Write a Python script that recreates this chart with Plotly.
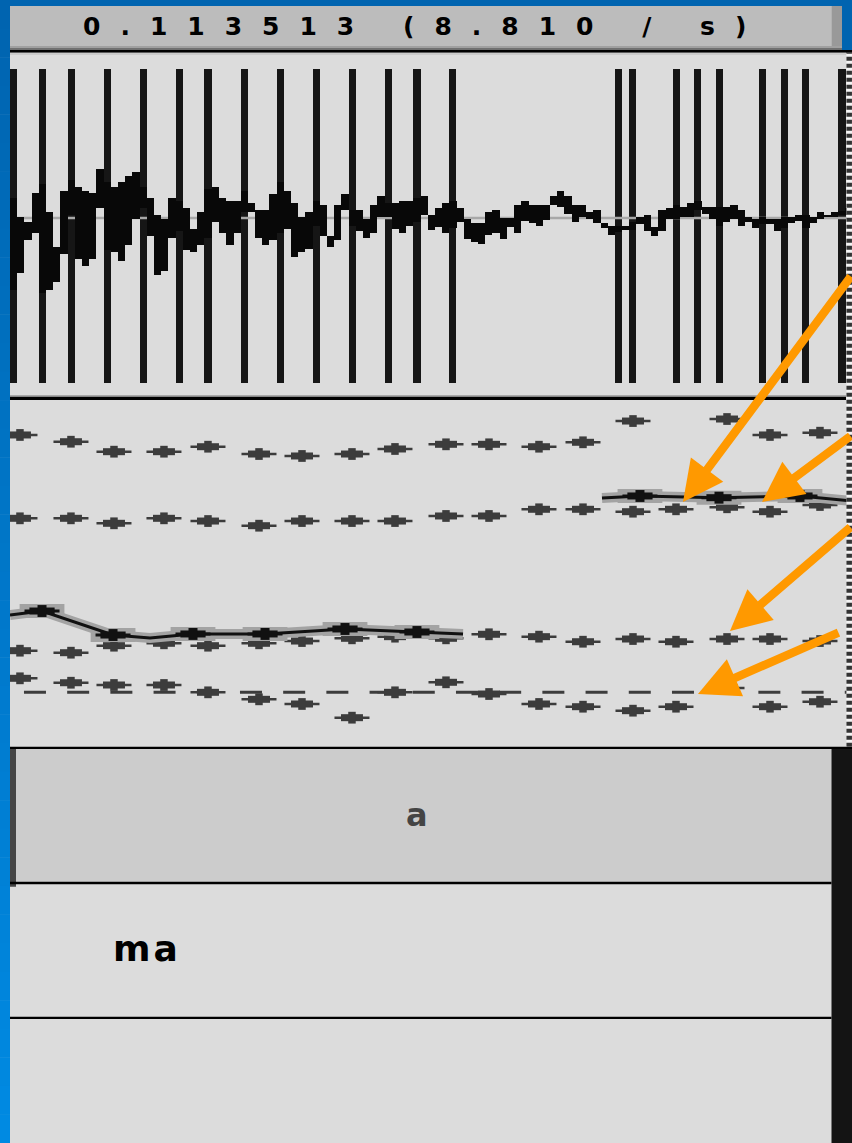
import numpy as np
import plotly.graph_objects as go

W, H = 852, 1143

# ---------------------------------------------------------------- data
SELECTION_S = 0.113513          # selected interval duration (s)
T_END_MS = 115.72               # right edge of the visible window (ms)

# Waveform, drawn as one min/max column per screen pixel column
wave_edges_ms = [
    0.00, 0.96, 1.92, 3.02, 3.99, 4.95, 5.91, 6.87, 7.97, 8.93,
    9.89, 10.86, 11.82, 12.92, 13.88, 14.84, 15.80, 16.77, 17.87, 18.83,
    19.79, 20.75, 21.71, 22.81, 23.78, 24.74, 25.70, 26.66, 27.76, 28.72,
    29.68, 30.78, 31.75, 32.71, 33.67, 34.63, 35.59, 36.69, 37.66, 38.62,
    39.58, 40.54, 41.64, 42.60, 43.57, 44.53, 45.49, 46.59, 47.55, 48.51,
    49.47, 50.44, 51.54, 52.50, 53.46, 54.42, 55.38, 56.48, 57.45, 58.41,
    59.37, 60.33, 61.43, 62.39, 63.35, 64.32, 65.28, 66.24, 67.34, 68.30,
    69.26, 70.23, 71.33, 72.29, 73.25, 74.21, 75.17, 76.14, 77.24, 78.20,
    79.16, 80.12, 81.22, 82.18, 83.15, 84.11, 85.07, 86.03, 87.13, 88.09,
    89.05, 90.15, 91.12, 92.08, 93.04, 94.00, 95.10, 96.06, 97.03, 97.99,
    98.95, 100.05, 101.01, 101.97, 102.94, 103.90, 105.00, 105.96, 106.92, 107.88,
    108.84, 109.94, 110.91, 111.87, 112.83, 113.79, 114.75, 115.72,
]
wave_max_mpa = [
    20, 1, -4, 25, 34, 6, -29, 27, 38, 31,
    27, 25, 49, 36, 31, 36, 42, 46, 31, 20,
    3, -1, 20, 17, 10, -11, 6, 29, 31, 20,
    17, 17, 27, 15, 8, 8, 24, 36, 27, 15,
    1, 6, 17, 13, -18, 13, 24, 8, 8, -1,
    13, 22, 15, 15, 17, 17, 20, 22, 3, 10,
    15, 17, 10, -1, -5, -5, 6, 8, 0, 0,
    13, 17, 13, 13, 13, 22, 27, 22, 13, 13,
    6, 8, -5, -8, -8, -8, -4, 1, 3, -9,
    8, 10, 13, 11, 15, 17, 11, 11, 11, 11,
    13, 8, 1, -1, 1, -1, -1, 1, 1, 3,
    3, 1, 6, 3, 6, 7, 10,
]
wave_min_mpa = [
    -72, -55, -22, -15, -75, -72, -64, -36, 3, -41,
    -48, -41, 10, -32, -34, -43, -27, -1, 10, -18,
    -57, -53, -20, -13, -32, -34, -27, -20, -4, -15,
    -27, -15, 6, 6, -20, -27, -22, -15, -11, -39,
    -34, -31, -8, -18, -29, -22, 8, -8, -13, -20,
    -15, 1, 1, -11, -15, -8, -4, 3, -12, -9,
    -15, -10, -4, -21, -24, -26, -17, -15, -21, -9,
    -15, -3, -5, -8, -2, 13, 11, 4, -4, 1,
    -1, -5, -10, -17, -14, -12, -12, -6, -13, -18,
    -13, -1, -1, 1, 1, 8, 4, -1, -8, -4,
    -1, -8, -4, -10, -6, -6, -13, -10, -5, -3,
    -10, -5, -1, 1, 1, 3, 3,
]
AMP_RANGE_MPA = [-165, 149]

# Glottal pulses (ms)
pulse_ms = [0.45, 4.44, 8.42, 13.37, 18.32, 23.27, 27.21, 32.20, 37.15, 42.09,
            47.04, 51.99, 55.93, 60.85, 83.60, 85.59, 91.62, 94.52, 97.48,
            103.39, 106.41, 109.37, 114.34]

# Formant tracks (Hz) per analysis frame
frame_ms = [1.37, 8.38, 14.29, 21.16, 27.21, 34.22, 40.13, 47.00, 52.91,
            59.92, 65.83, 72.70, 78.75, 85.62, 91.53, 98.54, 104.45, 111.32]
f1_hz = [1057, 987, 951, 951, 835, 724, 650, 433, 835,
         994, 808, 650, 607, 544, 607, 903, 607, 686]
f2_hz = [1495, 1463, 1574, 1612, 1574, 1612, 1648, 1691, 1717,
         1691, 1755, 1717, 1637, 1680, 1637, 1680, 1680, 1648]
f3_hz = [3593, 3593, 3514, 3593, 3550, 3476, 3550, 3550, 3550,
         3630, 3630, 3736, 3736, 3698, 3736, 3768, 3698, 3804]
f4_hz = [4914, 4807, 4649, 4649, 4728, 4612, 4581, 4612, 4692,
         4766, 4766, 4728, 4798, 5135, None, 5167, 4914, 4950]
FORMANT_RANGE_HZ = [0, 5500]

# Frequency cursor (dashed horizontal line)
cursor_hz = 835
cursor_start_ms = 1.92

# Pitch contour (Hz) and its analysis frames
pitch_line_ms = [0.00, 4.40, 14.16, 19.24, 25.15, 35.05, 46.04, 55.93, 62.26, None,
                 81.36, 86.58, 97.44, 108.57, 115.72]
pitch_line_hz = [234.2, 239.1, 209.7, 206.1, 211.0, 211.0, 217.1, 213.4, 211.0, None,
                 377.5, 380.0, 377.9, 380.0, 373.9]
pitch_frame_ms = [4.40, 14.16, 25.15, 35.05, 46.04, 55.93, 86.58, 97.44, 108.57]
pitch_frame_hz = [239.1, 209.7, 211.0, 211.0, 217.1, 213.4, 380.0, 377.9, 380.0]
PITCH_RANGE_HZ = [75, 500]

# Arrow targets: (time ms, frequency Hz, tail dx px, tail dy px)
arrows = [
    (92.49, 3852, 169, -227),
    (103.35, 3852, 90, -67),
    (98.95, 1807, 122, -105),
    (94.55, 808, 142, -62),
]

tier1_label = "a"
tier2_label = "ma"

# ---------------------------------------------------------------- helpers
def px(x):
    return x / W


def py(y):
    return 1 - y / H


PANEL = "#dcdcdc"
DOT = "#3c3c3c"
ORANGE = "#ff9900"

edges = np.array(wave_edges_ms)
col_center = (edges[:-1] + edges[1:]) / 2
col_width = np.diff(edges)
wmax = np.array(wave_max_mpa, dtype=float)
wmin = np.array(wave_min_mpa, dtype=float)
zero_frac = (0 - AMP_RANGE_MPA[0]) / (AMP_RANGE_MPA[1] - AMP_RANGE_MPA[0])

fig = go.Figure()

# pulses (base subplot, under everything in the sound panel)
fig.add_trace(go.Bar(x=pulse_ms, y=[1] * len(pulse_ms), base=0, width=1.0,
                     marker=dict(color="#161616", line=dict(width=0)),
                     xaxis="x", yaxis="y", hoverinfo="skip"))
# zero line of the waveform
fig.add_trace(go.Scatter(x=[0, T_END_MS], y=[zero_frac, zero_frac], mode="lines",
                         line=dict(color="#a8a8a8", width=2.5),
                         xaxis="x", yaxis="y", hoverinfo="skip"))
# waveform columns
fig.add_trace(go.Bar(x=col_center, y=wmax - wmin, base=wmin, width=col_width,
                     marker=dict(color="#080808", line=dict(width=0)),
                     xaxis="x", yaxis="y2", hoverinfo="skip"))

# frequency cursor
fig.add_trace(go.Scatter(x=[cursor_start_ms, T_END_MS], y=[cursor_hz, cursor_hz],
                         mode="lines",
                         line=dict(color=DOT, width=3, dash="22px,21.2px"),
                         xaxis="x", yaxis="y3", hoverinfo="skip"))

# formant speckles
fx, fy = [], []
for track in (f1_hz, f2_hz, f3_hz, f4_hz):
    fx += frame_ms
    fy += track
for sym, size, lw in (("line-ew", 25, 2.5), ("line-ew", 15.7, 7), ("line-ns", 8.4, 7.5)):
    fig.add_trace(go.Scatter(x=fx, y=fy, mode="markers",
                             marker=dict(symbol=sym, size=size,
                                         line=dict(color=DOT, width=lw)),
                             xaxis="x", yaxis="y3", hoverinfo="skip"))

# pitch contour with halo
fig.add_trace(go.Scatter(x=pitch_line_ms, y=pitch_line_hz, mode="lines",
                         line=dict(color="#a3a3a3", width=10), connectgaps=False,
                         xaxis="x", yaxis="y4", hoverinfo="skip"))
fig.add_trace(go.Scatter(x=pitch_frame_ms, y=pitch_frame_hz, mode="markers",
                         marker=dict(symbol="line-ew", size=32,
                                     line=dict(color="#a3a3a3", width=14)),
                         xaxis="x", yaxis="y4", hoverinfo="skip"))
fig.add_trace(go.Scatter(x=pitch_line_ms, y=pitch_line_hz, mode="lines",
                         line=dict(color="#111111", width=3), connectgaps=False,
                         xaxis="x", yaxis="y4", hoverinfo="skip"))
for sym, size, lw in (("line-ew", 25, 3), ("line-ew", 18, 7), ("line-ns", 8.5, 9)):
    fig.add_trace(go.Scatter(x=pitch_frame_ms, y=pitch_frame_hz, mode="markers",
                             marker=dict(symbol=sym, size=size,
                                         line=dict(color="#111111", width=lw)),
                             xaxis="x", yaxis="y4", hoverinfo="skip"))

# ---------------------------------------------------------------- frame / panels
shapes = []


def rect(x0, y0, x1, y1, color, layer="below"):
    shapes.append(dict(type="rect", xref="paper", yref="paper",
                       x0=px(x0), x1=px(x1), y0=py(y1), y1=py(y0),
                       fillcolor=color, line=dict(width=0), layer=layer))


# blue window frame, vertical gradient on the left edge
top_rgb = np.array([0, 100, 176])
bot_rgb = np.array([0, 138, 226])
nb = 40
for i in range(nb):
    c = top_rgb + (bot_rgb - top_rgb) * i / (nb - 1)
    rect(0, H * i / nb, 10, H * (i + 1) / nb + 0.5,
         "rgb({:.0f},{:.0f},{:.0f})".format(*c))
rect(0, 0, 852, 6, "rgb(0,100,176)")
rect(842, 0, 852, 50, "rgb(0,100,176)")

# selection bar at the top
rect(10, 6, 831.5, 46, "#bcbcbc")
rect(831.5, 6, 842, 50, "#999999")
rect(10, 46, 842, 48, "#a0a0a0")
rect(10, 48, 842, 50, "#707070")
rect(10, 50, 852, 52.7, "#000000")
rect(10, 52.7, 846, 55, "#cbcbcb")

# divider between sound and analysis panels
rect(10, 395, 846, 396.7, "#a8a8a8")
rect(10, 396.7, 846, 400, "#000000")
rect(10, 746.7, 852, 749, "#000000")

# tiers
rect(16, 749, 831.5, 881.7, "#cccccc")
rect(10, 749, 16, 886.7, "#454545")
rect(10, 881.7, 831.5, 884.3, "#000000")
rect(10, 1016.7, 831.5, 1019, "#000000")
rect(831.5, 749, 852, 1143, "#141414")

# dotted right border of the panels
for col, dash in (("#f4f4f4", "solid"), ("#333333", "4px,3px")):
    shapes.append(dict(type="line", xref="paper", yref="paper",
                       x0=px(849.2), x1=px(849.2), y0=py(746.7), y1=py(53),
                       line=dict(color=col, width=5.5, dash=dash), layer="above"))

# ---------------------------------------------------------------- texts / arrows
annotations = []
top_text = "{:.6f} ({:.3f} / s)".format(SELECTION_S, 1 / SELECTION_S)
annotations.append(dict(
    xref="paper", yref="paper", x=px(424), y=py(27), showarrow=False,
    text='<b><span style="letter-spacing:20px">' + top_text + "</span></b>",
    font=dict(family="DejaVu Sans", size=25, color="#000000"),
    xanchor="center", yanchor="middle"))
annotations.append(dict(
    xref="paper", yref="paper", x=px(417), y=py(815), showarrow=False,
    text="<b>" + tier1_label + "</b>",
    font=dict(family="DejaVu Sans", size=32, color="#444444"),
    xanchor="center", yanchor="middle"))
annotations.append(dict(
    xref="paper", yref="paper", x=px(147), y=py(948), showarrow=False,
    text='<b><span style="letter-spacing:3px">' + tier2_label + "</span></b>",
    font=dict(family="DejaVu Sans", size=36, color="#000000"),
    xanchor="center", yanchor="middle"))

for t, f, dx, dy in arrows:
    annotations.append(dict(
        x=t, y=f, xref="x", yref="y3", ax=dx, ay=dy, axref="pixel", ayref="pixel",
        text="", showarrow=True, arrowhead=2, arrowsize=0.95, arrowwidth=8.5,
        arrowcolor=ORANGE, standoff=0))

hidden = dict(visible=False, showgrid=False, zeroline=False, fixedrange=True)
fig.update_layout(
    width=W, height=H, margin=dict(l=0, r=0, t=0, b=0, pad=0),
    paper_bgcolor=PANEL, plot_bgcolor="rgba(0,0,0,0)",
    showlegend=False, barmode="overlay", bargap=0,
    xaxis=dict(domain=[px(10), 1], range=[0, T_END_MS], **hidden),
    yaxis=dict(domain=[py(383), py(69)], range=[0, 1], anchor="x", **hidden),
    yaxis2=dict(overlaying="y", range=AMP_RANGE_MPA, anchor="x", **hidden),
    yaxis3=dict(domain=[py(745), py(398)], range=FORMANT_RANGE_HZ, anchor="x", **hidden),
    yaxis4=dict(overlaying="y3", range=PITCH_RANGE_HZ, anchor="x", **hidden),
    shapes=shapes, annotations=annotations,
)

fig.write_html("out.html", config={"displayModeBar": False})
